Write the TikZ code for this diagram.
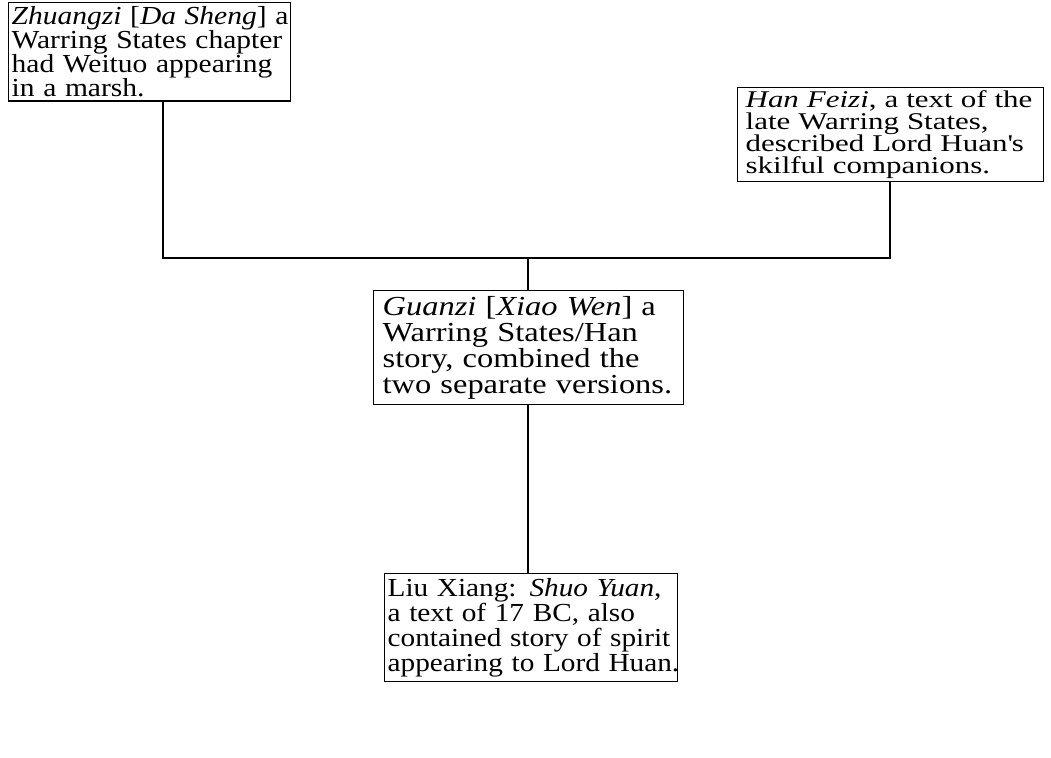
\documentclass[tikz,border=0pt]{standalone}
\usepackage{fontspec}
\setmainfont{Liberation Serif}
\newfontfamily\fA[FakeStretch=1.135]{Liberation Serif}
\newfontfamily\fB[FakeStretch=1.29]{Liberation Serif}
\newfontfamily\fC[FakeStretch=1.18]{Liberation Serif}
\newfontfamily\fD[FakeStretch=1.125]{Liberation Serif}
\newcommand{\one}[1]{\mbox{#1}}
\begin{document}
\begin{tikzpicture}[x=1pt,y=1pt,
  box/.style={draw, line width=1.3pt, rectangle, anchor=north west, align=left},
  link/.style={line width=1.3pt}]
\useasboundingbox[fill=white] (0,0) rectangle (1051,-757);
\node[box, inner xsep=3pt, inner ysep=4pt, text width=276pt,
  font={\fA\fontsize{26}{24}\selectfont\lineskiplimit=-100pt}] (b1) at (8,-2)
  {\one{\textit{Zhuangzi} [\textit{Da Sheng}] a}\\\one{Warring States chapter}\\\one{had Weituo appearing}\\\one{in a marsh.}};
\node[box, inner xsep=8pt, inner ysep=3pt, text width=290pt,
  font={\fB\fontsize{24}{22}\selectfont\lineskiplimit=-100pt}] (b2) at (737,-87)
  {\one{\textit{Han Feizi}, a text of the}\\\one{late Warring States,}\\\one{described Lord Huan\textquotesingle s}\\\one{skilful companions.}};
\node[box, inner xsep=9pt, inner ysep=5.5pt, text width=292pt,
  font={\fC\fontsize{27.5}{26}\selectfont\lineskiplimit=-100pt}] (b3) at (373,-290)
  {\one{\textit{Guanzi} [\textit{Xiao Wen}] a}\\\one{Warring States/Han}\\\one{story, combined the}\\\one{two separate versions.}};
\node[box, inner xsep=3pt, inner ysep=4.7pt, text width=287pt,
  font={\fD\fontsize{26}{25}\selectfont\lineskiplimit=-100pt}] (b4) at (384,-573)
  {\one{Liu Xiang: \textit{Shuo Yuan},}\\\one{a text of 17 BC, also}\\\one{contained story of spirit}\\\one{appearing to Lord Huan.}};
\coordinate (xl) at (163,0);
\coordinate (xr) at (890,0);
\coordinate (xm) at (528,0);
\coordinate (j) at (528,-258);
\draw[link] (b1.south -| xl) |- (j) -| (b2.south -| xr);
\draw[link] (j) -- (b3.north -| xm);
\draw[link] (b3.south -| xm) -- (b4.north -| xm);
\end{tikzpicture}
\end{document}
